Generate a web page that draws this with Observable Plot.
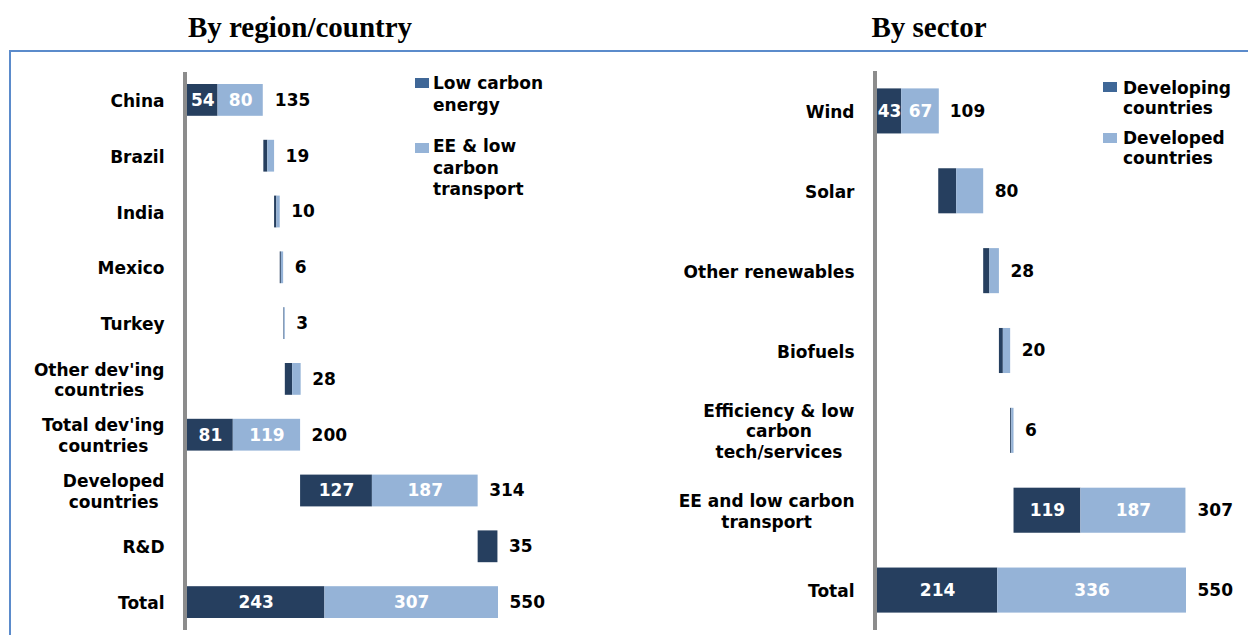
<!DOCTYPE html>
<html>
<head>
<meta charset="utf-8">
<script src="https://cdn.jsdelivr.net/npm/d3@7"></script>
<script src="https://cdn.jsdelivr.net/npm/@observablehq/plot@0.6"></script>
<style>
  body { margin: 0; background: #fff; }
  #wrap { position: relative; width: 1248px; height: 635px; overflow: hidden; }
  #frame { position: absolute; left: 9px; top: 50px; width: 1300px; height: 700px;
           border-top: 2px solid #5b8bcb; border-left: 2px solid #5b8bcb; }
  .title { position: absolute; top: 13px; font: bold 29px/29px "Liberation Serif", serif;
           color: #000; white-space: nowrap; transform: translateX(-50%); }
  .chart { position: absolute; top: 0; }
  .legtext { position: absolute; font-family: "DejaVu Sans", sans-serif; font-weight: bold;
             font-size: 17px; color: #000; white-space: nowrap; }
  .sw { position: absolute; }
</style>
</head>
<body>
<div id="wrap">
  <div id="frame"></div>
</div>
<script>
// ---------- data: by region/country ----------
const regionNames = ["China", "Brazil", "India", "Mexico", "Turkey",
  "Other dev'ing\ncountries", "Total dev'ing\ncountries", "Developed\ncountries", "R&D", "Total"];
const regionLowCarbon   = [54, 7, 4, 2, 1, 13, 81, 127, 35, 243];
const regionEETransport = [80, 12, 6, 4, 2, 15, 119, 187, 0, 307];
const regionTotals      = [135, 19, 10, 6, 3, 28, 200, 314, 35, 550];
const regionIsSubtotal  = [false, false, false, false, false, false, true, false, false, true];
const regionShowParts   = [true, false, false, false, false, false, true, true, false, true];
const regionSeries      = ["Low carbon energy", "EE & low carbon transport"];
const regionLegendLines = [["Low carbon", "energy"], ["EE & low", "carbon", "transport"]];

// ---------- data: by sector ----------
const sectorNames = ["Wind", "Solar", "Other renewables", "Biofuels",
  "Efficiency & low\ncarbon\ntech/services", "EE and low carbon\ntransport", "Total"];
const sectorDeveloping = [43, 32, 11, 7, 2, 119, 214];
const sectorDeveloped  = [67, 48, 17, 13, 4, 187, 336];
const sectorTotals     = [109, 80, 28, 20, 6, 307, 550];
const sectorIsSubtotal = [false, false, false, false, false, false, true];
const sectorShowParts  = [true, false, false, false, false, true, true];
const sectorSeries     = ["Developing countries", "Developed countries"];
const sectorLegendLines = [["Developing", "countries"], ["Developed", "countries"]];

const titles = ["By region/country", "By sector"];

// ---------- styling ----------
const DARK = "#263f5f", LIGHT = "#95b3d7", LEGEND_DARK = "#3f6797";
const font = {fontFamily: "DejaVu Sans", fontWeight: "bold", fontSize: 17};

function build(names, a, b, totals, isSub, showParts, series) {
  let running = 0;
  const rows = [], segs = [];
  names.forEach((name, i) => {
    const base = isSub[i] ? 0 : running;
    running = isSub[i] ? totals[i] : running + totals[i];
    rows.push({name, total: totals[i], end: base + totals[i]});
    if (a[i] > 0) segs.push({name, series: series[0], x1: base, x2: base + a[i], value: a[i], show: showParts[i]});
    if (b[i] > 0) segs.push({name, series: series[1], x1: base + a[i], x2: base + a[i] + b[i], value: b[i], show: showParts[i]});
  });
  return {rows, segs};
}

const ctx = document.createElement("canvas").getContext("2d");
ctx.font = "bold 17px 'DejaVu Sans'";

function chart({names, series, data, marginLeft, marginRight, marginTop, marginBottom, inset}) {
  const labelMarks = names.map(n => {
    const w = d3.max(n.split("\n"), l => ctx.measureText(l).width);
    return Plot.text([n], {y: d => d, text: d => d, frameAnchor: "left", textAnchor: "middle",
      dx: -23 - w / 2, lineHeight: 1.22, fill: "#000", ...font});
  });
  return Plot.plot({
    width: 624, height: 635, marginLeft, marginRight, marginTop, marginBottom,
    style: {background: "none", overflow: "visible"},
    x: {domain: [0, 550], axis: null},
    y: {domain: names, padding: 0, round: false, axis: null},
    color: {domain: series, range: [DARK, LIGHT]},
    marks: [
      Plot.ruleX([0], {stroke: "#8c8c8c", strokeWidth: 4, dx: -2.5}),
      Plot.barX(data.segs, {x1: "x1", x2: "x2", y: "name", fill: "series", insetTop: inset, insetBottom: inset}),
      Plot.text(data.segs.filter(d => d.show), {x: d => (d.x1 + d.x2) / 2, y: "name", text: "value", fill: "white", ...font}),
      Plot.text(data.rows, {x: "end", y: "name", text: "total", textAnchor: "start", dx: 11, fill: "#000", ...font}),
      ...labelMarks
    ]
  });
}

const wrap = document.getElementById("wrap");

const left = chart({
  names: regionNames, series: regionSeries,
  data: build(regionNames, regionLowCarbon, regionEETransport, regionTotals, regionIsSubtotal, regionShowParts, regionSeries),
  marginLeft: 187, marginRight: 126, marginTop: 72, marginBottom: 5, inset: 12
});
left.classList.add("chart"); left.style.left = "0px";
wrap.appendChild(left);

const right = chart({
  names: sectorNames, series: sectorSeries,
  data: build(sectorNames, sectorDeveloping, sectorDeveloped, sectorTotals, sectorIsSubtotal, sectorShowParts, sectorSeries),
  marginLeft: 253, marginRight: 62, marginTop: 71, marginBottom: 5, inset: 17.4
});
right.classList.add("chart"); right.style.left = "624px";
wrap.appendChild(right);

// titles
[[titles[0], 300], [titles[1], 929]].forEach(([t, cx]) => {
  const d = document.createElement("div");
  d.className = "title"; d.textContent = t; d.style.left = cx + "px";
  wrap.appendChild(d);
});

// legends
function legend(lines, colors, sw, textLeft, tops, lh) {
  lines.forEach((ls, i) => {
    const s = document.createElement("div");
    s.className = "sw";
    Object.assign(s.style, {left: sw[i][0] + "px", top: sw[i][1] + "px", width: sw[i][2] + "px", height: sw[i][3] + "px", background: colors[i]});
    wrap.appendChild(s);
    const t = document.createElement("div");
    t.className = "legtext";
    Object.assign(t.style, {left: textLeft + "px", top: tops[i] + "px", lineHeight: lh[i] + "px"});
    t.innerHTML = ls.map(l => l.replace(/&/g, "&amp;")).join("<br>");
    wrap.appendChild(t);
  });
}
legend(regionLegendLines, [LEGEND_DARK, LIGHT], [[415, 78, 14, 10], [415, 143, 14, 10]], 433, [72, 136], [22, 21.5]);
legend(sectorLegendLines, [LEGEND_DARK, LIGHT], [[1103, 82, 14, 10], [1103, 133, 14, 10]], 1123, [78, 128], [20, 20]);
</script>
</body>
</html>
